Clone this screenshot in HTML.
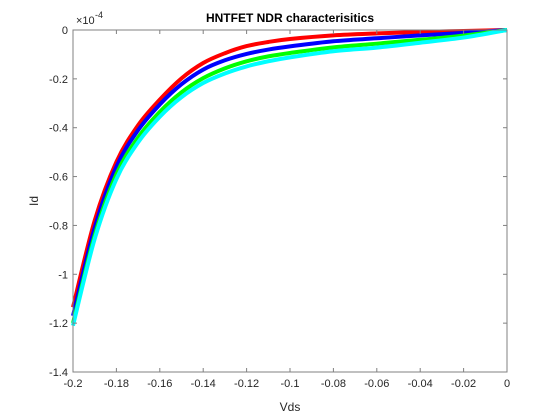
<!DOCTYPE html>
<html><head><meta charset="utf-8"><style>
body{margin:0;background:#fff;}
svg{display:block;font-family:"Liberation Sans",sans-serif;}
</style></head><body>
<svg id="chart" width="560" height="420">
<rect width="560" height="420" fill="#fff"/>
<g id="plot"></g>
</svg>
<script>
const xs = [-0.2,-0.19,-0.18,-0.17,-0.16,-0.15,-0.14,-0.13,-0.12,-0.11,-0.1,-0.08,-0.06,-0.04,-0.02,0];
const redVals   = [-1.135,-0.78,-0.54,-0.39,-0.285,-0.198,-0.135,-0.095,-0.066,-0.049,-0.037,-0.022,-0.014,-0.008,-0.004,0];
const blueVals  = [-1.17,-0.81,-0.56,-0.41,-0.305,-0.222,-0.162,-0.124,-0.098,-0.080,-0.067,-0.046,-0.034,-0.022,-0.012,0];
const greenVals = [-1.20,-0.84,-0.59,-0.44,-0.335,-0.255,-0.197,-0.157,-0.128,-0.108,-0.094,-0.071,-0.056,-0.04,-0.023,0];
const cyanVals  = [-1.21,-0.855,-0.61,-0.46,-0.355,-0.275,-0.217,-0.178,-0.149,-0.128,-0.112,-0.087,-0.072,-0.052,-0.031,0];
const seriesColors = ['#ff0000','#0000ff','#00ff00','#00ffff'];
const xTicks = [-0.2,-0.18,-0.16,-0.14,-0.12,-0.1,-0.08,-0.06,-0.04,-0.02,0];
const xTickLabels = ['-0.2','-0.18','-0.16','-0.14','-0.12','-0.1','-0.08','-0.06','-0.04','-0.02','0'];
const yTicks = [0,-0.2,-0.4,-0.6,-0.8,-1,-1.2,-1.4];
const yTickLabels = ['0','-0.2','-0.4','-0.6','-0.8','-1','-1.2','-1.4'];

const L=73,R=507,T=30,B=372;
const sx=v=>L+(v+0.2)/0.2*(R-L);
const sy=v=>T+(-v)/1.4*(B-T);
const NS='http://www.w3.org/2000/svg';
const g=document.getElementById('plot');
function mk(tag,attrs,text){const e=document.createElementNS(NS,tag);for(const k in attrs)e.setAttribute(k,attrs[k]);if(text!==undefined)e.textContent=text;g.appendChild(e);return e;}

[[redVals,'red'],[blueVals,'blue'],[greenVals,'green'],[cyanVals,'cyan']].forEach(([vals,nm],i)=>{
  const p=xs.map((x,j)=>[sx(x),sy(vals[j])]);
  let d='M'+p[0][0]+','+p[0][1];
  for(let j=0;j<p.length-1;j++){
    const p0=p[Math.max(0,j-1)],p1=p[j],p2=p[j+1],p3=p[Math.min(p.length-1,j+2)];
    const c1=[p1[0]+(p2[0]-p0[0])/6,p1[1]+(p2[1]-p0[1])/6];
    const c2=[p2[0]-(p3[0]-p1[0])/6,p2[1]-(p3[1]-p1[1])/6];
    d+=`C${c1[0]},${c1[1]} ${c2[0]},${c2[1]} ${p2[0]},${p2[1]}`;
  }
  const e=mk('path',{d:d,fill:'none',stroke:seriesColors[i],'stroke-width':4,'stroke-linejoin':'round'});
  
  
});

const box=mk('rect',{x:L,y:T,width:R-L,height:B-T,fill:'none',stroke:'#808080','stroke-width':1});



xTicks.forEach((v,i)=>{
  const x=sx(v);
  mk('line',{x1:x,x2:x,y1:B,y2:B-4,stroke:'#808080'});
  mk('line',{x1:x,x2:x,y1:T,y2:T+4,stroke:'#808080'});
  const t=mk('text',{x:x,y:B+15,'text-anchor':'middle','font-size':11,fill:'#262626'},xTickLabels[i]);
  
  
});
yTicks.forEach((v,i)=>{
  const y=sy(v);
  mk('line',{x1:L,x2:L+4,y1:y,y2:y,stroke:'#808080'});
  mk('line',{x1:R,x2:R-4,y1:y,y2:y,stroke:'#808080'});
  const t=mk('text',{x:L-5,y:y+4,'text-anchor':'end','font-size':11,fill:'#262626'},yTickLabels[i]);
  
  
});
const mult=mk('text',{x:76,y:24,'font-size':11,fill:'#262626'},'×10');


const ex=mk('text',{x:95,y:18,'font-size':9,fill:'#262626'},'-4');


const title=mk('text',{x:290,y:22,'text-anchor':'middle','font-size':12,'font-weight':'bold',fill:'#000'},'HNTFET NDR characterisitics');


const xl=mk('text',{x:290,y:411,'text-anchor':'middle','font-size':12,fill:'#262626'},'Vds');


const yl=mk('text',{x:0,y:0,'text-anchor':'middle','font-size':12,fill:'#262626',transform:'translate(38,201) rotate(-90)'},'Id');


</script>
</body></html>
